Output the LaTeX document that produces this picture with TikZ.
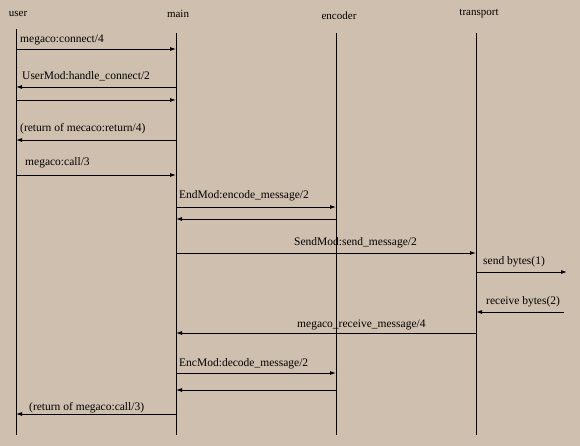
\documentclass[tikz,border=0pt]{standalone}
\usepackage{fontspec}
\setmainfont{Liberation Serif}
\usetikzlibrary{arrows.meta}
\definecolor{ChartTan}{HTML}{CFBFAF}

\begin{document}
\begin{tikzpicture}[x=1pt, y=-1pt,
  actor/.style={font=\fontsize{11}{13}\selectfont, inner sep=0pt},
  life/.style={draw=black, line width=0.9pt},
  msg/.style={-{Latex[length=6pt,width=4pt]}, line width=0.9pt},
  lbl/.style={font=\fontsize{11.5}{13}\selectfont, inner sep=0pt, anchor=base west}
]
\fill[ChartTan] (0,0) rectangle (580,446);
\useasboundingbox (0,0) rectangle (580,446);
% actors and their lifelines
\node[actor] (user) at (18,14) {user};
\node[actor] (main) at (178,14) {main};
\node[actor] (encoder) at (339,16) {encoder};
\node[actor] (transport) at (479,14) {transport};
\coordinate (userTop) at (16,29);
\coordinate (mainTop) at (176,33);
\coordinate (encTop) at (336,33);
\coordinate (transTop) at (476,33);
\coordinate (userEnd) at (16,435);
\coordinate (mainEnd) at (176,435);
\coordinate (encEnd) at (336,435);
\coordinate (transEnd) at (476,435);
\draw[life] (userTop) -- (userEnd);
\draw[life] (mainTop) -- (mainEnd);
\draw[life] (encTop) -- (encEnd);
\draw[life] (transTop) -- (transEnd);
% message rows
\coordinate (r1) at (0,49);
\coordinate (r2) at (0,87);
\coordinate (r3) at (0,100);
\coordinate (r4) at (0,140);
\coordinate (r5) at (0,175);
\coordinate (r6) at (0,207);
\coordinate (r7) at (0,219);
\coordinate (r8) at (0,253);
\coordinate (r9) at (0,272);
\coordinate (r10) at (0,312);
\coordinate (r11) at (0,333);
\coordinate (r12) at (0,373);
\coordinate (r13) at (0,390);
\coordinate (r14) at (0,414);
\coordinate (wireOut) at (567,272);
\coordinate (wireIn) at (564,312);
% messages
\draw[msg] (userTop |- r1) -- (mainTop |- r1);
\node[lbl] (m1) at (20,43) {megaco:connect/4};
\draw[msg] (mainTop |- r2) -- (userTop |- r2);
\node[lbl] (m2) at (22,80) {UserMod:handle\_connect/2};
\draw[msg] (userTop |- r3) -- (mainTop |- r3);
\draw[msg] (mainTop |- r4) -- (userTop |- r4);
\node[lbl] (m4) at (20,132) {(return of mecaco:return/4)};
\draw[msg] (userTop |- r5) -- (mainTop |- r5);
\node[lbl] (m5) at (25,166) {megaco:call/3};
\draw[msg] (mainTop |- r6) -- (encTop |- r6);
\node[lbl] (m6) at (179,199) {EndMod:encode\_message/2};
\draw[msg] (encTop |- r7) -- (mainTop |- r7);
\draw[msg] (mainTop |- r8) -- (transTop |- r8);
\node[lbl] (m8) at (294,245) {SendMod:send\_message/2};
\draw[msg] (transTop |- r9) -- (wireOut);
\node[lbl] (m9) at (483,264) {send bytes(1)};
\draw[msg] (wireIn) -- (transTop |- r10);
\node[lbl] (m10) at (486,304) {receive bytes(2)};
\draw[msg] (transTop |- r11) -- (mainTop |- r11);
\node[lbl] (m11) at (297,327) {megaco\_receive\_message/4};
\draw[msg] (mainTop |- r12) -- (encTop |- r12);
\node[lbl] (m12) at (179,366) {EncMod:decode\_message/2};
\draw[msg] (encTop |- r13) -- (mainTop |- r13);
\draw[msg] (mainTop |- r14) -- (userTop |- r14);
\node[lbl] (m14) at (29,410) {(return of megaco:call/3)};
\end{tikzpicture}
\end{document}
